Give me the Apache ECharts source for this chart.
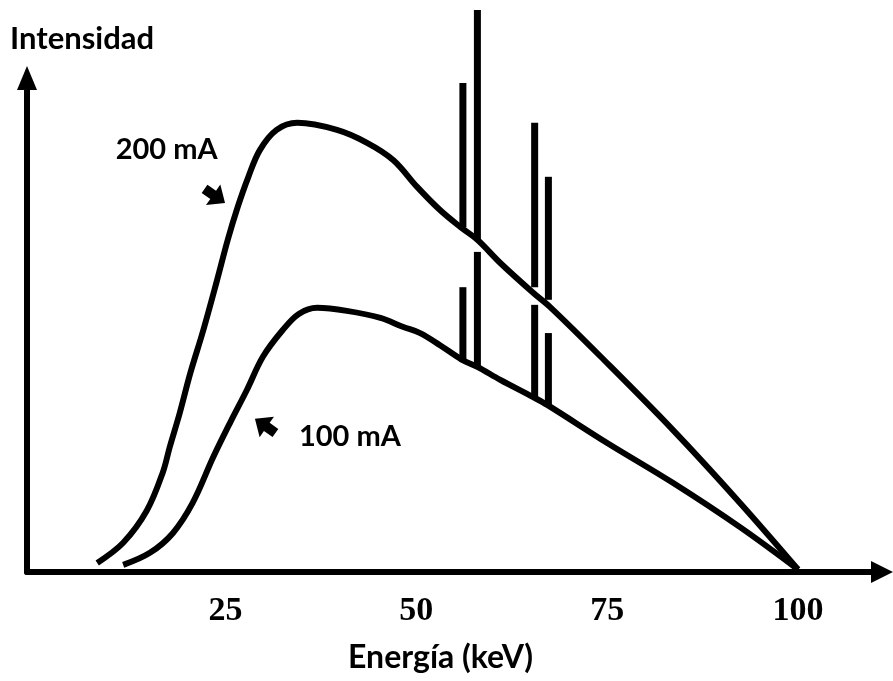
<!DOCTYPE html>
<html>
<head>
<meta charset="utf-8">
<script src="https://cdn.jsdelivr.net/npm/echarts@6/dist/echarts.min.js"></script>
<style>
  html, body { margin: 0; padding: 0; background: #fff; }
  #chart { width: 893px; height: 681px; }
</style>
</head>
<body>
<div id="chart"></div>
<script>
// espectro 200 mA  [energía keV, intensidad]
const curve200 = [
  [8.2, 1.8], [11.6, 5.8], [14.7, 12.2], [16.8, 19.8], [17.7, 24.8], [19.0, 31.5],
  [20.4, 39.5], [22.1, 48.0], [23.9, 57.9], [25.3, 65.9], [26.6, 72.4], [28.0, 78.4],
  [29.5, 83.7], [31.7, 87.7], [34.4, 89.1], [39.6, 87.7], [43.6, 85.1], [47.0, 81.7],
  [50.1, 76.4], [53.1, 71.8], [55.8, 68.4], [58.0, 65.9], [61.0, 61.3], [65.3, 55.4],
  [67.5, 52.6], [74.1, 42.8], [83.6, 28.2], [92.4, 13.7], [100, 0.5]
];
// espectro 100 mA
const curve100 = [
  [11.6, 1.4], [15.1, 3.8], [18.1, 7.7], [20.7, 13.7], [23.4, 22.8], [25.6, 29.6],
  [27.8, 36.1], [29.9, 42.7], [32.5, 48.0], [34.6, 51.2], [37.0, 52.4], [40.9, 51.8],
  [45.3, 50.4], [48.3, 48.6], [50.5, 47.4], [53.1, 45.0], [56.0, 42.1], [58.0, 40.7],
  [61.0, 38.1], [65.3, 34.7], [67.2, 33.1], [75.0, 25.6], [83.6, 17.7], [92.4, 8.9],
  [100, 0.5]
];
// líneas características
const spikeEnergy = [56.1, 58.0, 65.5, 67.3];
const spikeTop200 = [97.0, 111.5, 89.1, 78.4];
const spikeBase200 = [68.4, 65.9, 56.5, 54.0];
const spikeTop100 = [56.5, 63.5, 53.0, 47.4];
const spikeBase100 = [41.7, 40.5, 34.7, 33.1];

const xTicks = [25, 50, 75, 100];
const annotText = ['200 mA', '100 mA'];
const annotPos = [[17.3, 83.7], [41.3, 26.8]];
const arrowPos = [[23.6, 74.6], [30.2, 29.0]];
const arrowRotate = [-125, 55];

const spikes = [];
spikeEnergy.forEach((e, i) => {
  spikes.push([e, spikeBase200[i], spikeTop200[i]]);
  spikes.push([e, spikeBase100[i], spikeTop100[i]]);
});

const chart = echarts.init(document.getElementById('chart'));
const option = {
  animation: false,
  grid: { left: 27, right: 11, top: 78, bottom: 109, outerBoundsMode: 'none' },
  xAxis: {
    type: 'value', min: -1, max: 111,
    name: 'Energía (keV)', nameLocation: 'middle', nameGap: 70,
    nameTextStyle: { fontFamily: 'Lato', fontWeight: 'bold', fontSize: 32, color: '#000', padding: [0, 28, 0, 0] },
    axisLine: { onZero: false, symbol: ['none', 'triangle'], symbolSize: [22, 22], lineStyle: { color: '#000', width: 6 } },
    axisTick: { show: false },
    splitLine: { show: false },
    axisLabel: {
      customValues: xTicks, margin: 22,
      fontFamily: 'Liberation Serif', fontWeight: 'bold', fontSize: 34, color: '#000'
    }
  },
  yAxis: {
    type: 'value', min: 0, max: 98,
    name: 'Intensidad', nameLocation: 'end', nameGap: 24,
    nameTextStyle: { fontFamily: 'Lato', fontWeight: 'bold', fontSize: 31, color: '#000', align: 'left', padding: [0, 0, 0, -17] },
    axisLine: { show: true, onZero: false, symbol: ['none', 'triangle'], symbolSize: [20, 24], lineStyle: { color: '#000', width: 6 } },
    axisTick: { show: false },
    axisLabel: { show: false },
    splitLine: { show: false }
  },
  series: [
    {
      name: '200 mA', type: 'line', data: curve200, smooth: 0.35, showSymbol: false,
      lineStyle: { color: '#000', width: 6 }
    },
    {
      name: '100 mA', type: 'line', data: curve100, smooth: 0.35, showSymbol: false,
      lineStyle: { color: '#000', width: 6 }
    },
    {
      type: 'custom', data: spikes, clip: false,
      renderItem: (params, api) => {
        const p1 = api.coord([api.value(0), api.value(1)]);
        const p2 = api.coord([api.value(0), api.value(2)]);
        return {
          type: 'line',
          shape: { x1: p1[0], y1: p1[1], x2: p2[0], y2: p2[1] },
          style: { stroke: '#000', lineWidth: 7 }
        };
      }
    },
    {
      type: 'scatter', symbolSize: 0,
      itemStyle: { opacity: 1 },
      data: annotPos.map((p, i) => ({ value: p, name: annotText[i] })),
      label: {
        show: true, position: 'inside', formatter: '{b}',
        fontFamily: 'Lato', fontWeight: 'bold', fontSize: 29, color: '#000'
      }
    },
    {
      type: 'scatter',
      symbol: 'path://M0,-10 L10,1 L4,1 L4,9 L-4,9 L-4,1 L-10,1 Z',
      symbolSize: [25, 25],
      itemStyle: { color: '#000', opacity: 1 },
      data: arrowPos.map((p, i) => ({ value: p, symbolRotate: arrowRotate[i] }))
    }
  ]
};
chart.setOption(option);
</script>
</body>
</html>
